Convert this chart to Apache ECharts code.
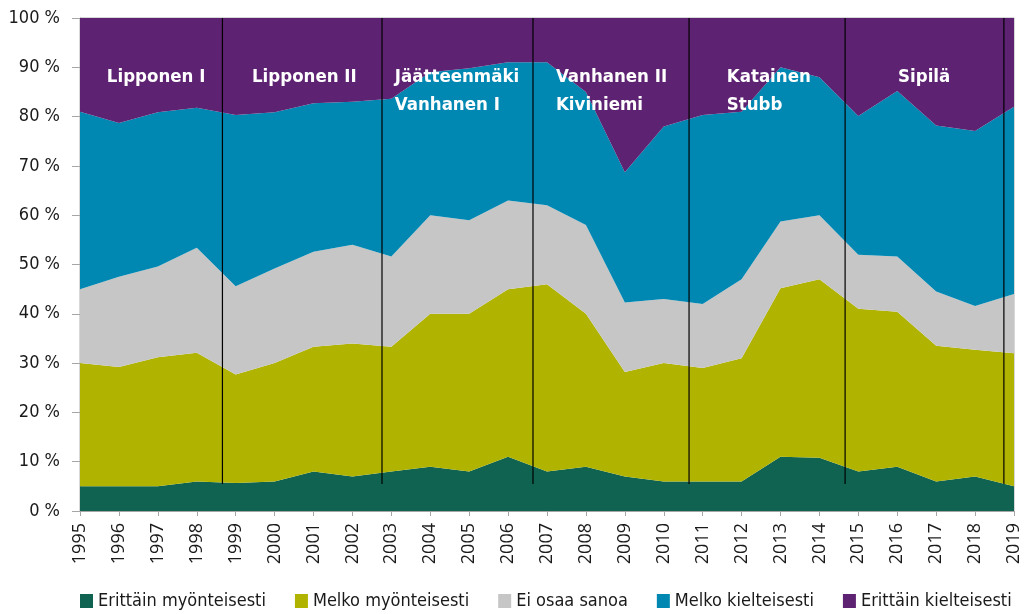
<!DOCTYPE html>
<html>
<head>
<meta charset="utf-8">
<script src="https://cdn.jsdelivr.net/npm/echarts@6/dist/echarts.min.js"></script>
<style>
html,body{margin:0;padding:0;background:#fff;}
#chart{width:1026px;height:614px;}
</style>
</head>
<body>
<div id="chart"></div>
<script>
// Data (percent shares per year)
const years = ['1995','1996','1997','1998','1999','2000','2001','2002','2003','2004','2005','2006','2007','2008','2009','2010','2011','2012','2013','2014','2015','2016','2017','2018','2019'];
const seriesNames = ['Erittäin myönteisesti','Melko myönteisesti','Ei osaa sanoa','Melko kielteisesti','Erittäin kielteisesti'];
const erittainMyonteisesti = [5,5,5,6,5.7,6,8,7,8,9,8,11,8,9,7,6,6,6,11,10.8,8,9,6,7,5];
const melkoMyonteisesti   = [25,24.2,26.2,26.1,22,24,25.3,27,25.3,31,32,34,38,31,21.2,24,23,25,34.2,36.2,33,31.4,27.5,25.7,27];
const eiOsaaSanoa         = [15,18.3,18.4,21.3,17.9,19.2,19.3,20,18.3,20,19,18,16,18,14.1,13,13,16,13.5,13,11,11.2,11,8.9,12];
const melkoKielteisesti   = [36,31.2,31.3,28.4,34.7,31.7,30.1,29,32,29,30.8,28,29,27,26.4,35,38.3,34,31.3,28,28.1,33.6,33.7,35.5,38];
const erittainKielteisesti= [19,21.3,19.1,18.2,19.7,19.1,17.3,17,16.4,11,10.2,9,9,15,31.3,22,19.7,19,10,12,19.9,14.8,21.8,22.9,18];
const yTickLabels = ['0 %','10 %','20 %','30 %','40 %','50 %','60 %','70 %','80 %','90 %','100 %'];
// Government changes (fractional year) and cabinet names
const govChanges = [1998.66, 2002.76, 2006.64, 2010.65, 2014.66, 2018.74];
const govNames = ['Lipponen I','Lipponen II','Jäätteenmäki\nVanhanen I','Vanhanen II\nKiviniemi','Katainen\nStubb','Sipilä'];
const govLabelYears = [1995.69, 1999.42, 2003.09, 2007.23, 2011.62, 2016.02];

const colors = ['#0f6350','#b0b400','#c6c6c6','#0088b3','#5e2272'];
const values = [erittainMyonteisesti, melkoMyonteisesti, eiOsaaSanoa, melkoKielteisesti, erittainKielteisesti];
const narrow = '"DejaVu Sans Condensed","Liberation Sans Narrow",sans-serif';

const series = values.map((vals, i) => ({
  name: seriesNames[i],
  type: 'line',
  stack: 'total',
  symbol: 'none',
  xAxisIndex: 0,
  data: vals,
  lineStyle: {width: 0, color: colors[i]},
  itemStyle: {color: colors[i]},
  areaStyle: {color: colors[i], opacity: 1},
  z: 2
}));

govChanges.forEach(x => {
  series.push({
    type: 'line',
    xAxisIndex: 1,
    symbol: 'none',
    data: [[x, 5.5], [x, 100]],
    lineStyle: {color: '#000', width: 1.2},
    z: 5,
    silent: true
  });
});

series.push({
  type: 'scatter',
  xAxisIndex: 1,
  symbolSize: 0,
  silent: true,
  z: 6,
  itemStyle: {opacity: 1},
  data: govNames.map((n, i) => ({value: [govLabelYears[i], 90.8], name: n})),
  label: {
    show: true,
    position: [0, 0],
    align: 'left',
    verticalAlign: 'top',
    formatter: p => p.name,
    color: '#ffffff',
    opacity: 1,
    fontFamily: narrow,
    fontWeight: 'bold',
    fontSize: 18.5,
    lineHeight: 28
  }
});

const chart = echarts.init(document.getElementById('chart'), null, {renderer: 'canvas'});
chart.setOption({
  animation: false,
  backgroundColor: '#fff',
  grid: {left: 80, right: 12, top: 18, bottom: 103, show: true, borderColor: '#b0b0b0', borderWidth: 1},
  legend: {
    data: seriesNames,
    left: 75,
    top: 587,
    width: 960,
    icon: 'rect',
    itemWidth: 13,
    itemHeight: 14,
    itemGap: 29,
    textStyle: {fontFamily: narrow, fontSize: 18, color: '#1a1a1a'}
  },
  xAxis: [{
    type: 'category',
    data: years,
    boundaryGap: false,
    axisLine: {show: true, lineStyle: {color: '#a6a6a6'}},
    axisTick: {show: true, length: 5, lineStyle: {color: '#a6a6a6'}},
    splitLine: {show: false},
    axisLabel: {
      rotate: 90,
      interval: 0,
      margin: 12,
      color: '#1a1a1a',
      fontFamily: '"Open Sans",sans-serif',
      fontSize: 18
    }
  }, {
    type: 'value',
    min: 1995,
    max: 2019,
    show: false
  }],
  yAxis: {
    type: 'value',
    min: 0,
    max: 100,
    interval: 10,
    axisLine: {show: true, lineStyle: {color: '#a6a6a6'}},
    axisTick: {show: true, length: 8, lineStyle: {color: '#a6a6a6'}},
    splitLine: {show: false},
    axisLabel: {
      margin: 20,
      color: '#1a1a1a',
      fontFamily: narrow,
      fontSize: 18,
      formatter: v => yTickLabels[Math.round(v / 10)]
    }
  },
  series: series
});
</script>
</body>
</html>
